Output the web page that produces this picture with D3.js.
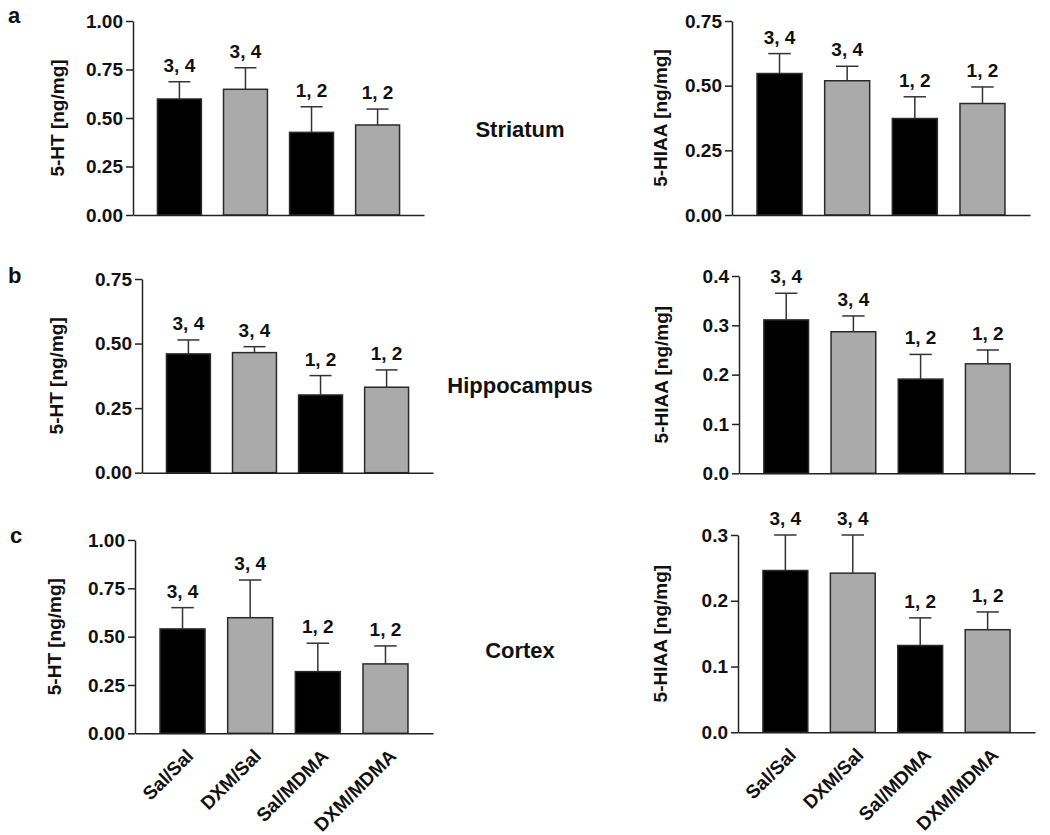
<!DOCTYPE html>
<html>
<head>
<meta charset="utf-8">
<script src="https://cdn.jsdelivr.net/npm/d3@7/dist/d3.min.js"></script>
<style>
  html, body { margin: 0; padding: 0; background: #fff; }
  svg { display: block; font-family: "Liberation Sans", Arial, Helvetica, sans-serif; font-weight: bold; }
</style>
</head>
<body>
<svg id="chart" width="1050" height="835"></svg>
<script>
// ---------- DATA ----------
const categories = ["Sal/Sal", "DXM/Sal", "Sal/MDMA", "DXM/MDMA"];
const regions = ["Striatum", "Hippocampus", "Cortex"];
const panelLetters = ["a", "b", "c"];
const sigLabels = ["3, 4", "3, 4", "1, 2", "1, 2"];

// 5-HT (ng/mg): mean and SEM
const htStriatumMean   = [0.598, 0.648, 0.426, 0.464];
const htStriatumSem    = [0.089, 0.111, 0.132, 0.082];
const htHippoMean      = [0.460, 0.465, 0.301, 0.331];
const htHippoSem       = [0.054, 0.023, 0.075, 0.067];
const htCortexMean     = [0.540, 0.598, 0.319, 0.359];
const htCortexSem      = [0.110, 0.195, 0.147, 0.093];

// 5-HIAA (ng/mg): mean and SEM
const hiaaStriatumMean = [0.547, 0.519, 0.373, 0.431];
const hiaaStriatumSem  = [0.077, 0.056, 0.084, 0.064];
const hiaaHippoMean    = [0.311, 0.287, 0.191, 0.222];
const hiaaHippoSem     = [0.054, 0.032, 0.050, 0.028];
const hiaaCortexMean   = [0.246, 0.242, 0.132, 0.156];
const hiaaCortexSem    = [0.054, 0.058, 0.042, 0.027];

// tick values
const ticksHt1    = [0, 0.25, 0.5, 0.75, 1.0];
const ticksHt075  = [0, 0.25, 0.5, 0.75];
const ticksHiaa04 = [0, 0.1, 0.2, 0.3, 0.4];
const ticksHiaa03 = [0, 0.1, 0.2, 0.3];

const yLabelHt = "5-HT [ng/mg]";
const yLabelHiaa = "5-HIAA [ng/mg]";

// ---------- LAYOUT ----------
const fills = ["#000000", "#aaaaaa", "#000000", "#aaaaaa"];
const panels = [
  { mean: htStriatumMean,   sem: htStriatumSem,   max: 1.0,  ticks: ticksHt1,    fmt: ".2f", label: yLabelHt,   x0: 133, x1: 424,  yTop: 21,  yBot: 215,   labX: 57,  xlab: false },
  { mean: hiaaStriatumMean, sem: hiaaStriatumSem, max: 0.75, ticks: ticksHt075,  fmt: ".2f", label: yLabelHiaa, x0: 732, x1: 1030, yTop: 21,  yBot: 215,   labX: 660, xlab: false },
  { mean: htHippoMean,      sem: htHippoSem,      max: 0.75, ticks: ticksHt075,  fmt: ".2f", label: yLabelHt,   x0: 142, x1: 433,  yTop: 279, yBot: 472.7, labX: 56,  xlab: false },
  { mean: hiaaHippoMean,    sem: hiaaHippoSem,    max: 0.4,  ticks: ticksHiaa04, fmt: ".1f", label: yLabelHiaa, x0: 739, x1: 1035, yTop: 276, yBot: 473.3, labX: 661, xlab: false },
  { mean: htCortexMean,     sem: htCortexSem,     max: 1.0,  ticks: ticksHt1,    fmt: ".2f", label: yLabelHt,   x0: 135, x1: 433,  yTop: 540, yBot: 733.3, labX: 54,  xlab: true },
  { mean: hiaaCortexMean,   sem: hiaaCortexSem,   max: 0.3,  ticks: ticksHiaa03, fmt: ".1f", label: yLabelHiaa, x0: 738, x1: 1035, yTop: 535, yBot: 732.3, labX: 660, xlab: true }
];
const regionLabelPos = [{ x: 520, y: 137 }, { x: 520, y: 393 }, { x: 520, y: 658 }];
const letterPos = [{ x: 8, y: 23 }, { x: 8, y: 283 }, { x: 10, y: 543 }];

const svg = d3.select("#chart");
const axisColor = "#222";

panels.forEach(p => {
  const g = svg.append("g");
  const x = d3.scaleBand().domain(categories).range([p.x0, p.x1]).paddingInner(0.335).paddingOuter(0.37);
  const y = d3.scaleLinear().domain([0, p.max]).range([p.yBot, p.yTop]);

  // bars
  g.selectAll("rect.bar").data(categories).join("rect")
    .attr("class", "bar")
    .attr("x", d => x(d))
    .attr("width", x.bandwidth())
    .attr("y", (d, i) => y(p.mean[i]))
    .attr("height", (d, i) => y(0) - y(p.mean[i]))
    .attr("fill", (d, i) => fills[i])
    .attr("stroke", "#2a2a2a")
    .attr("stroke-width", 1.5);

  // error bars (upper only)
  const cx = d => x(d) + x.bandwidth() / 2;
  g.selectAll("line.err").data(categories).join("line")
    .attr("x1", cx).attr("x2", cx)
    .attr("y1", (d, i) => y(p.mean[i]))
    .attr("y2", (d, i) => y(p.mean[i] + p.sem[i]))
    .attr("stroke", "#333").attr("stroke-width", 1.5);
  g.selectAll("line.cap").data(categories).join("line")
    .attr("x1", d => cx(d) - x.bandwidth() / 4)
    .attr("x2", d => cx(d) + x.bandwidth() / 4)
    .attr("y1", (d, i) => y(p.mean[i] + p.sem[i]))
    .attr("y2", (d, i) => y(p.mean[i] + p.sem[i]))
    .attr("stroke", "#333").attr("stroke-width", 1.5);

  // significance labels
  g.selectAll("text.sig").data(categories).join("text")
    .attr("x", cx)
    .attr("y", (d, i) => y(p.mean[i] + p.sem[i]) - 10)
    .attr("text-anchor", "middle")
    .attr("font-size", 19)
    .attr("fill", "#111")
    .text((d, i) => sigLabels[i]);

  // y axis
  const yAxis = d3.axisLeft(y).tickValues(p.ticks).tickFormat(d3.format(p.fmt)).tickSizeOuter(0).tickSizeInner(7).tickPadding(3);
  const ya = g.append("g").attr("transform", `translate(${p.x0},0)`).call(yAxis);
  ya.select(".domain").attr("stroke", axisColor).attr("stroke-width", 1.5);
  ya.selectAll(".tick line").attr("stroke", axisColor).attr("stroke-width", 1.5);
  ya.selectAll(".tick text").attr("font-size", 19).attr("font-family", "Liberation Sans, Arial, sans-serif").attr("font-weight", "bold").attr("fill", "#111");

  // x axis (baseline only, labels on bottom row)
  const xAxis = d3.axisBottom(x).tickSize(0).tickSizeOuter(0).tickFormat(p.xlab ? (d => d) : (() => ""));
  const xa = g.append("g").attr("transform", `translate(0,${p.yBot})`).call(xAxis);
  xa.select(".domain").attr("stroke", axisColor).attr("stroke-width", 1.5);
  if (p.xlab) {
    xa.selectAll(".tick text")
      .attr("font-size", 19).attr("font-family", "Liberation Sans, Arial, sans-serif").attr("font-weight", "bold").attr("fill", "#111")
      .attr("text-anchor", "end")
      .attr("x", 0).attr("y", 0).attr("dy", null)
      .attr("transform", "translate(12,24) rotate(-45)");
  }

  // y label
  g.append("text")
    .attr("transform", `translate(${p.labX},${(p.yTop + p.yBot) / 2}) rotate(-90)`)
    .attr("text-anchor", "middle")
    .attr("dy", "0.35em")
    .attr("font-size", 19)
    .attr("fill", "#111")
    .text(p.label);
});

// region labels
svg.selectAll("text.region").data(regions).join("text")
  .attr("class", "region")
  .attr("x", (d, i) => regionLabelPos[i].x)
  .attr("y", (d, i) => regionLabelPos[i].y)
  .attr("text-anchor", "middle")
  .attr("font-size", 22)
  .attr("fill", "#111")
  .text(d => d);

// panel letters
svg.selectAll("text.letter").data(panelLetters).join("text")
  .attr("class", "letter")
  .attr("x", (d, i) => letterPos[i].x)
  .attr("y", (d, i) => letterPos[i].y)
  .attr("font-size", 22)
  .attr("fill", "#111")
  .text(d => d);
</script>
</body>
</html>
